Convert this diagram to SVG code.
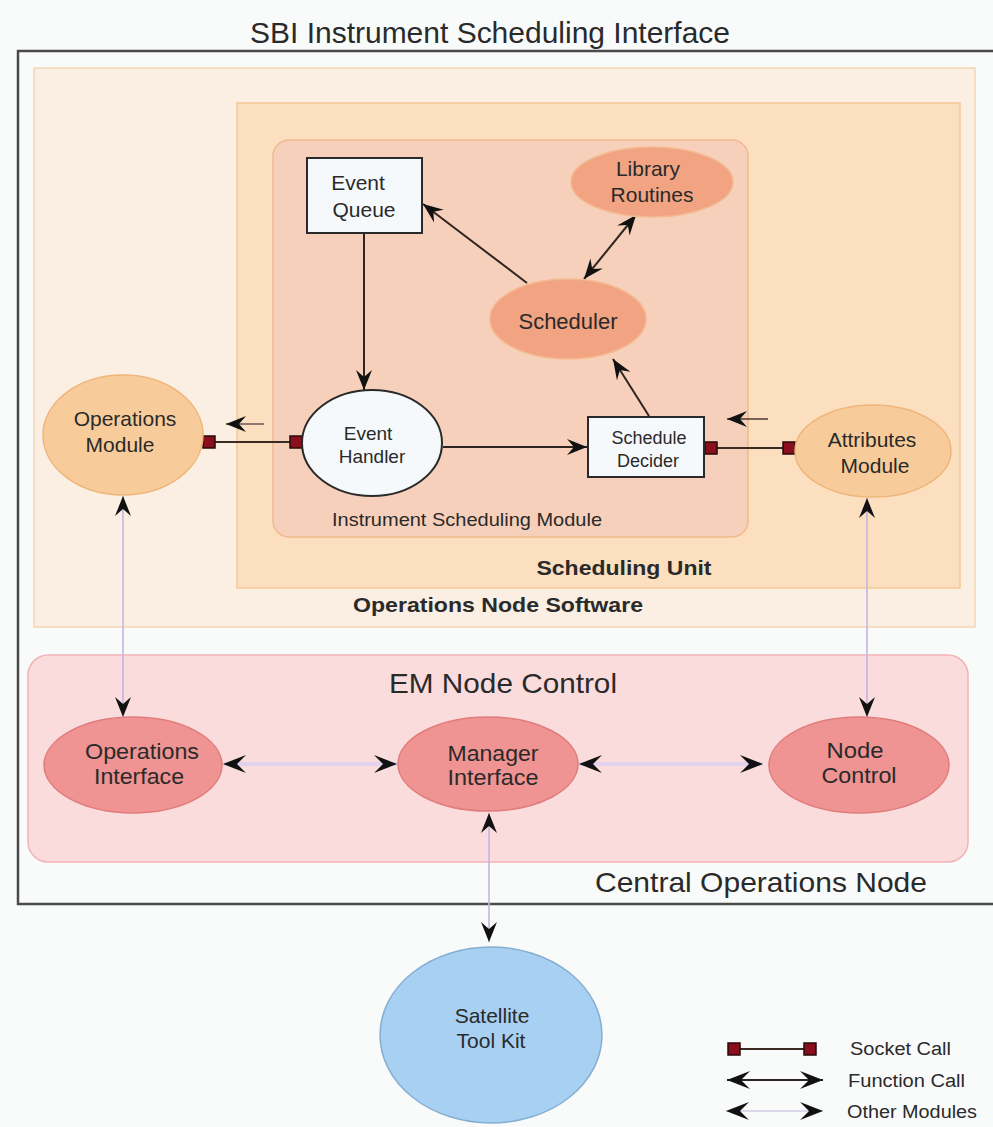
<svg xmlns="http://www.w3.org/2000/svg" width="993" height="1127" viewBox="0 0 993 1127">
<style>
  text { font-family: "Liberation Sans", Arial, sans-serif; fill: #2a2a2a; text-anchor: middle; }
  .b { font-weight: bold; }
  .fn { stroke: #2e2420; stroke-width: 2; fill: none; }
  .om { stroke: #c4b4e6; stroke-width: 1.6; fill: none; }
  .omw { stroke: #e2d2ee; stroke-width: 4; fill: none; }
  .sock { stroke: #3a2a22; stroke-width: 2; fill: none; }
  .sq { fill: #8a0f1c; stroke: #2a0a0a; stroke-width: 1.5; }
  .peach { fill: #f8cc9a; stroke: #efb57a; stroke-width: 1.5; }
  .salmon { fill: #f1a382; stroke: #f3b98f; stroke-width: 1.5; }
  .pink { fill: #ef9393; stroke: #e07c7c; stroke-width: 1.5; }
  .white { fill: #f6f9fb; stroke: #2a2a2a; stroke-width: 2; }
</style>
<defs>
  <marker id="ah" markerUnits="userSpaceOnUse" viewBox="-22 -10 23 20" refX="0" refY="0" markerWidth="23" markerHeight="20" orient="auto-start-reverse">
    <path d="M0,0 L-20,-8 L-13,0 L-20,8 Z" fill="#111"/>
  </marker>
  <marker id="ahb" markerUnits="userSpaceOnUse" viewBox="-24 -11 25 22" refX="0" refY="0" markerWidth="25" markerHeight="22" orient="auto-start-reverse">
    <path d="M0,0 L-23,-9 L-14,0 L-23,9 Z" fill="#111"/>
  </marker>
</defs>
<rect x="0" y="0" width="993" height="1127" fill="#f9fbfb"/>

<text x="490" y="43" font-size="29" textLength="480" lengthAdjust="spacingAndGlyphs">SBI Instrument Scheduling Interface</text>

<g id="central-operations-node">
  <rect x="18" y="51" width="990" height="853" fill="#f9fbfb" stroke="#4a4a4a" stroke-width="2.5"/>
  <text x="761" y="892" font-size="28" textLength="332" lengthAdjust="spacingAndGlyphs">Central Operations Node</text>
</g>

<g id="operations-node-software">
  <rect x="34" y="68" width="941" height="559" fill="#faefe2" stroke="#f2d6b2" stroke-width="1.5"/>
  <text class="b" x="498" y="612" font-size="21" textLength="290" lengthAdjust="spacingAndGlyphs">Operations Node Software</text>
</g>

<g id="scheduling-unit">
  <rect x="237" y="103" width="723" height="485" fill="#fbdfbf" stroke="#f4c996" stroke-width="1.5"/>
  <text class="b" x="624" y="575" font-size="21" textLength="175" lengthAdjust="spacingAndGlyphs">Scheduling Unit</text>
</g>

<g id="instrument-scheduling-module">
  <rect x="273" y="140" width="475" height="397" rx="16" fill="#f7d0bb" stroke="#f1b98c" stroke-width="1.5"/>
  <text x="467" y="526" font-size="19" textLength="270" lengthAdjust="spacingAndGlyphs">Instrument Scheduling Module</text>
</g>

<g id="em-node-control">
  <rect x="28" y="655" width="940" height="207" rx="20" fill="#fadcdc" stroke="#f2b3b6" stroke-width="1.5"/>
  <text x="503" y="693" font-size="28" textLength="228" lengthAdjust="spacingAndGlyphs">EM Node Control</text>
</g>

<g id="connectors">
  <line class="fn" x1="527" y1="283" x2="423" y2="204" marker-end="url(#ah)"/>
  <line class="fn" x1="584" y1="279" x2="636" y2="215" marker-start="url(#ah)" marker-end="url(#ah)"/>
  <line class="fn" x1="364" y1="233" x2="364" y2="390" marker-end="url(#ah)"/>
  <line class="fn" x1="443" y1="447" x2="587" y2="447" marker-end="url(#ah)"/>
  <line class="fn" x1="649" y1="416" x2="613" y2="359" marker-end="url(#ah)"/>
  <line class="sock" x1="212" y1="442" x2="293" y2="442"/>
  <rect class="sq" x="203" y="436" width="12" height="12"/>
  <rect class="sq" x="290" y="436" width="12" height="12"/>
  <line x1="264" y1="424" x2="226" y2="424" stroke="#8a7a70" stroke-width="2" marker-end="url(#ah)"/>
  <line class="sock" x1="714" y1="448" x2="786" y2="448"/>
  <rect class="sq" x="705" y="442" width="12" height="12"/>
  <rect class="sq" x="783" y="442" width="12" height="12"/>
  <line x1="768" y1="419" x2="727" y2="419" stroke="#4a3a32" stroke-width="1.5" marker-end="url(#ah)"/>
  <line class="om" x1="123" y1="496" x2="123" y2="717" marker-start="url(#ah)" marker-end="url(#ah)"/>
  <line class="om" x1="867" y1="498" x2="867" y2="717" marker-start="url(#ah)" marker-end="url(#ah)"/>
  <line class="omw" x1="223" y1="764" x2="397" y2="764" marker-start="url(#ahb)" marker-end="url(#ahb)"/>
  <line class="omw" x1="579" y1="764" x2="763" y2="764" marker-start="url(#ahb)" marker-end="url(#ahb)"/>
  <line class="om" x1="489" y1="813" x2="489" y2="942" marker-start="url(#ah)" marker-end="url(#ah)"/>
</g>

<g id="event-queue">
  <rect class="white" x="307" y="158" width="115" height="75"/>
  <text x="358" y="190" font-size="21">Event</text>
  <text x="364" y="217" font-size="21">Queue</text>
</g>

<g id="library-routines">
  <ellipse class="salmon" cx="652" cy="182" rx="81" ry="35"/>
  <text x="648" y="176" font-size="21">Library</text>
  <text x="652" y="202" font-size="21">Routines</text>
</g>

<g id="scheduler">
  <ellipse class="salmon" cx="568" cy="319" rx="78" ry="40" stroke="#f7c08f"/>
  <text x="568" y="329" font-size="22">Scheduler</text>
</g>

<g id="event-handler">
  <ellipse class="white" cx="372" cy="443" rx="70" ry="53"/>
  <text x="368" y="440" font-size="19">Event</text>
  <text x="372" y="463" font-size="19">Handler</text>
</g>

<g id="schedule-decider">
  <rect class="white" x="588" y="417" width="116" height="60"/>
  <text x="649" y="444" font-size="18">Schedule</text>
  <text x="648" y="467" font-size="18">Decider</text>
</g>

<g id="operations-module">
  <ellipse class="peach" cx="123" cy="435" rx="80" ry="60"/>
  <text x="125" y="426" font-size="21">Operations</text>
  <text x="120" y="452" font-size="21">Module</text>
</g>

<g id="attributes-module">
  <ellipse class="peach" cx="873" cy="451" rx="78" ry="46"/>
  <text x="872" y="447" font-size="21">Attributes</text>
  <text x="875" y="473" font-size="21">Module</text>
</g>

<g id="operations-interface">
  <ellipse class="pink" cx="133" cy="765" rx="89" ry="48"/>
  <text x="142" y="759" font-size="22" textLength="114" lengthAdjust="spacingAndGlyphs">Operations</text>
  <text x="139" y="784" font-size="22" textLength="90" lengthAdjust="spacingAndGlyphs">Interface</text>
</g>

<g id="manager-interface">
  <ellipse class="pink" cx="488" cy="764" rx="90" ry="47"/>
  <text x="493" y="761" font-size="22" textLength="91" lengthAdjust="spacingAndGlyphs">Manager</text>
  <text x="493" y="785" font-size="22" textLength="91" lengthAdjust="spacingAndGlyphs">Interface</text>
</g>

<g id="node-control">
  <ellipse class="pink" cx="859" cy="765" rx="90" ry="48"/>
  <text x="855" y="758" font-size="22" textLength="57" lengthAdjust="spacingAndGlyphs">Node</text>
  <text x="859" y="783" font-size="22" textLength="75" lengthAdjust="spacingAndGlyphs">Control</text>
</g>

<g id="satellite-tool-kit">
  <ellipse cx="491" cy="1035" rx="111" ry="88" fill="#a7d0f2" stroke="#86aed0" stroke-width="1.5"/>
  <text x="492" y="1023" font-size="21">Satellite</text>
  <text x="491" y="1048" font-size="21">Tool Kit</text>
</g>

<g id="legend">
  <line class="sock" x1="737" y1="1049" x2="807" y2="1049" stroke-width="1.5"/>
  <rect class="sq" x="728" y="1043" width="12" height="12"/>
  <rect class="sq" x="804" y="1043" width="12" height="12"/>
  <text x="850" y="1055" font-size="18" style="text-anchor:start" textLength="101" lengthAdjust="spacingAndGlyphs">Socket Call</text>
  <line class="fn" x1="727" y1="1080" x2="823" y2="1080" stroke-width="1.5" marker-start="url(#ahb)" marker-end="url(#ahb)"/>
  <text x="848" y="1087" font-size="18" style="text-anchor:start" textLength="117" lengthAdjust="spacingAndGlyphs">Function Call</text>
  <line x1="726" y1="1111" x2="823" y2="1111" stroke="#d4cce6" stroke-width="1.5" marker-start="url(#ahb)" marker-end="url(#ahb)"/>
  <text x="847" y="1118" font-size="18" style="text-anchor:start" textLength="130" lengthAdjust="spacingAndGlyphs">Other Modules</text>
</g>
</svg>
